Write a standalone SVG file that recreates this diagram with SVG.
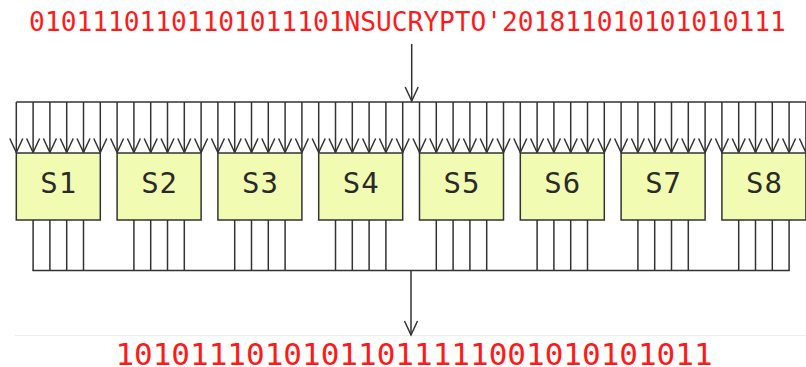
<svg xmlns="http://www.w3.org/2000/svg" width="806" height="367" viewBox="0 0 806 367">
  <style>
    .bits { font-family: "DejaVu Sans Mono", "Liberation Mono", monospace; fill: #ff1a1a; text-anchor: middle; }
    .wire { stroke: #333333; stroke-width: 1.5; fill: none; }
    .in { stroke: #333333; stroke-width: 1.5; marker-end: url(#head); }
    .sbox rect { fill: #f1fbb2; stroke: #333333; stroke-width: 1.5; }
    .sbox text { font-family: "DejaVu Sans Mono", "Liberation Mono", monospace; font-size: 29px; fill: #2a2a2a; text-anchor: middle; letter-spacing: 1px; }
  </style>
  <defs>
    <marker id="head" markerUnits="userSpaceOnUse" orient="auto" refX="0" refY="0" markerWidth="20" markerHeight="20" style="overflow:visible">
      <path d="M-14,-6.5 L0,0 L-14,6.5" fill="none" stroke="#333333" stroke-width="1.5"/>
    </marker>
  </defs>

  <rect width="806" height="367" fill="#ffffff"/>

  <!-- input and output bit strings -->
  <text id="input-bits" class="bits" x="407.5" y="31" font-size="26.2">01011101101101011101NSUCRYPTO'201811010101010111</text>
  <text id="output-bits" class="bits" x="414" y="364.5" font-size="31">10101110101011011111001010101011</text>

  <line x1="15" y1="335.5" x2="806" y2="335.5" stroke="#ededed" stroke-width="1"/>

  <g id="connectors">
    <!-- input arrow onto the top bus -->
    <line class="in" x1="411.7" y1="44" x2="411.7" y2="101"/>
    <!-- top bus -->
    <line class="wire" x1="16.3" y1="102" x2="806" y2="102"/>
    <!-- 48 bus taps into the S-boxes -->
    <g id="taps">
      <line class="in" x1="16.3" y1="102" x2="16.3" y2="152.5"/>
      <line class="in" x1="33.1" y1="102" x2="33.1" y2="152.5"/>
      <line class="in" x1="49.9" y1="102" x2="49.9" y2="152.5"/>
      <line class="in" x1="66.7" y1="102" x2="66.7" y2="152.5"/>
      <line class="in" x1="83.5" y1="102" x2="83.5" y2="152.5"/>
      <line class="in" x1="100.3" y1="102" x2="100.3" y2="152.5"/>
      <line class="in" x1="117.1" y1="102" x2="117.1" y2="152.5"/>
      <line class="in" x1="133.9" y1="102" x2="133.9" y2="152.5"/>
      <line class="in" x1="150.7" y1="102" x2="150.7" y2="152.5"/>
      <line class="in" x1="167.5" y1="102" x2="167.5" y2="152.5"/>
      <line class="in" x1="184.3" y1="102" x2="184.3" y2="152.5"/>
      <line class="in" x1="201.1" y1="102" x2="201.1" y2="152.5"/>
      <line class="in" x1="217.9" y1="102" x2="217.9" y2="152.5"/>
      <line class="in" x1="234.7" y1="102" x2="234.7" y2="152.5"/>
      <line class="in" x1="251.5" y1="102" x2="251.5" y2="152.5"/>
      <line class="in" x1="268.3" y1="102" x2="268.3" y2="152.5"/>
      <line class="in" x1="285.1" y1="102" x2="285.1" y2="152.5"/>
      <line class="in" x1="301.9" y1="102" x2="301.9" y2="152.5"/>
      <line class="in" x1="318.7" y1="102" x2="318.7" y2="152.5"/>
      <line class="in" x1="335.5" y1="102" x2="335.5" y2="152.5"/>
      <line class="in" x1="352.3" y1="102" x2="352.3" y2="152.5"/>
      <line class="in" x1="369.1" y1="102" x2="369.1" y2="152.5"/>
      <line class="in" x1="385.9" y1="102" x2="385.9" y2="152.5"/>
      <line class="in" x1="402.7" y1="102" x2="402.7" y2="152.5"/>
      <line class="in" x1="419.5" y1="102" x2="419.5" y2="152.5"/>
      <line class="in" x1="436.3" y1="102" x2="436.3" y2="152.5"/>
      <line class="in" x1="453.1" y1="102" x2="453.1" y2="152.5"/>
      <line class="in" x1="469.9" y1="102" x2="469.9" y2="152.5"/>
      <line class="in" x1="486.7" y1="102" x2="486.7" y2="152.5"/>
      <line class="in" x1="503.5" y1="102" x2="503.5" y2="152.5"/>
      <line class="in" x1="520.3" y1="102" x2="520.3" y2="152.5"/>
      <line class="in" x1="537.1" y1="102" x2="537.1" y2="152.5"/>
      <line class="in" x1="553.9" y1="102" x2="553.9" y2="152.5"/>
      <line class="in" x1="570.7" y1="102" x2="570.7" y2="152.5"/>
      <line class="in" x1="587.5" y1="102" x2="587.5" y2="152.5"/>
      <line class="in" x1="604.3" y1="102" x2="604.3" y2="152.5"/>
      <line class="in" x1="621.1" y1="102" x2="621.1" y2="152.5"/>
      <line class="in" x1="637.9" y1="102" x2="637.9" y2="152.5"/>
      <line class="in" x1="654.7" y1="102" x2="654.7" y2="152.5"/>
      <line class="in" x1="671.5" y1="102" x2="671.5" y2="152.5"/>
      <line class="in" x1="688.3" y1="102" x2="688.3" y2="152.5"/>
      <line class="in" x1="705.1" y1="102" x2="705.1" y2="152.5"/>
      <line class="in" x1="721.9" y1="102" x2="721.9" y2="152.5"/>
      <line class="in" x1="738.7" y1="102" x2="738.7" y2="152.5"/>
      <line class="in" x1="755.5" y1="102" x2="755.5" y2="152.5"/>
      <line class="in" x1="772.3" y1="102" x2="772.3" y2="152.5"/>
      <line class="in" x1="789.1" y1="102" x2="789.1" y2="152.5"/>
      <line class="in" x1="805.9" y1="102" x2="805.9" y2="152.5"/>
    </g>
    <!-- 32 S-box outputs down to the bottom bus -->
    <path class="wire" d="
      M33.1,220 V270.5 M49.9,220 V270.5 M66.7,220 V270.5 M83.5,220 V270.5
      M133.9,220 V270.5 M150.7,220 V270.5 M167.5,220 V270.5 M184.3,220 V270.5
      M234.7,220 V270.5 M251.5,220 V270.5 M268.3,220 V270.5 M285.1,220 V270.5
      M335.5,220 V270.5 M352.3,220 V270.5 M369.1,220 V270.5 M385.9,220 V270.5
      M436.3,220 V270.5 M453.1,220 V270.5 M469.9,220 V270.5 M486.7,220 V270.5
      M537.1,220 V270.5 M553.9,220 V270.5 M570.7,220 V270.5 M587.5,220 V270.5
      M637.9,220 V270.5 M654.7,220 V270.5 M671.5,220 V270.5 M688.3,220 V270.5
      M738.7,220 V270.5 M755.5,220 V270.5 M772.3,220 V270.5 M789.1,220 V270.5"/>
    <!-- bottom bus -->
    <line class="wire" x1="32.4" y1="270.5" x2="789.8" y2="270.5"/>
    <!-- output arrow from the bottom bus -->
    <line class="in" x1="411" y1="270.5" x2="411" y2="335"/>
  </g>

  <g id="S1" class="sbox"><rect x="16.3" y="153" width="84" height="67"/><text x="58.8" y="193">S1</text></g>
  <g id="S2" class="sbox"><rect x="117.1" y="153" width="84" height="67"/><text x="159.6" y="193">S2</text></g>
  <g id="S3" class="sbox"><rect x="217.9" y="153" width="84" height="67"/><text x="260.4" y="193">S3</text></g>
  <g id="S4" class="sbox"><rect x="318.7" y="153" width="84" height="67"/><text x="361.2" y="193">S4</text></g>
  <g id="S5" class="sbox"><rect x="419.5" y="153" width="84" height="67"/><text x="462" y="193">S5</text></g>
  <g id="S6" class="sbox"><rect x="520.3" y="153" width="84" height="67"/><text x="562.8" y="193">S6</text></g>
  <g id="S7" class="sbox"><rect x="621.1" y="153" width="84" height="67"/><text x="663.6" y="193">S7</text></g>
  <g id="S8" class="sbox"><rect x="721.9" y="153" width="84" height="67"/><text x="764.4" y="193">S8</text></g>
</svg>
